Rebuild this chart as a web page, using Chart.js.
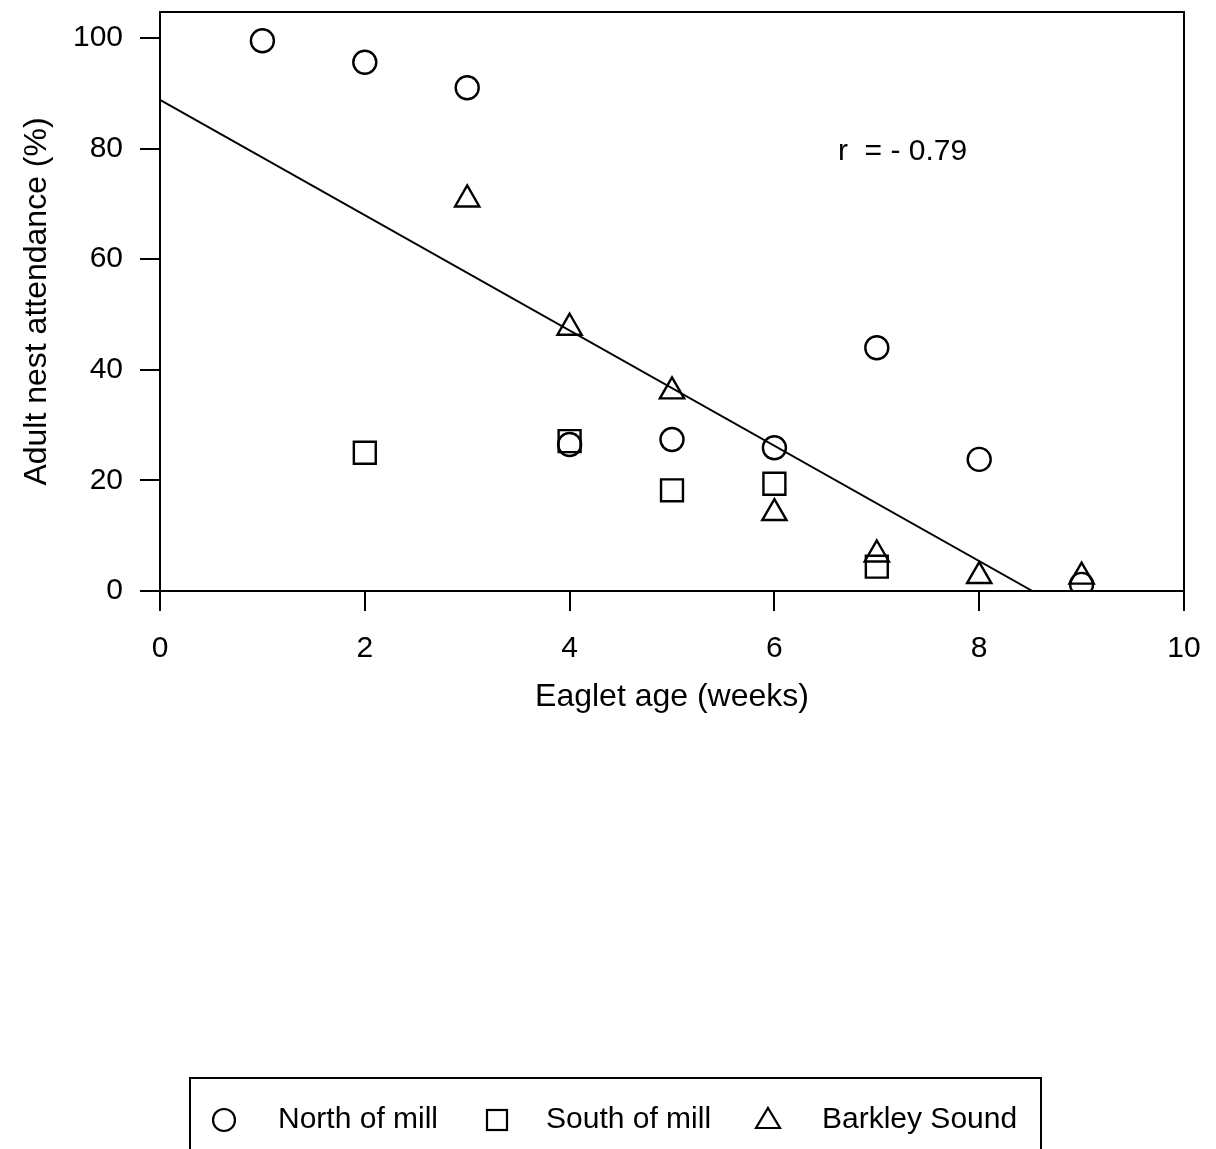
<!DOCTYPE html>
<html>
<head>
<meta charset="utf-8">
<script src="https://cdn.jsdelivr.net/npm/chart.js@4/dist/chart.umd.min.js"></script>
<style>
  html, body { margin: 0; padding: 0; background: #fff; }
  #c { display: block; }
</style>
</head>
<body>
<canvas id="c" width="1216" height="1149"></canvas>
<script>
// ---- data ----
const seriesNames = ['North of mill', 'South of mill', 'Barkley Sound'];
const weeksNorth = [1, 2, 3, 4, 5, 6, 7, 8, 9];
const northOfMill = [99.5, 95.6, 91.0, 26.5, 27.4, 25.9, 44.0, 23.8, 1.2];
const weeksSouth = [2, 4, 5, 6, 7];
const southOfMill = [25.0, 27.1, 18.2, 19.4, 4.4];
const weeksBarkley = [3, 4, 5, 6, 7, 8, 9];
const barkleySound = [70.8, 47.6, 36.1, 14.1, 6.6, 2.7, 2.6];
const fitWeeks = [0, 8.52];
const fitValues = [88.8, 0];
const xTicks = [0, 2, 4, 6, 8, 10];
const yTicks = [0, 20, 40, 60, 80, 100];
const xTitle = 'Eaglet age (weeks)';
const yTitle = 'Adult nest attendance (%)';
const annotationText = 'r  = - 0.79';
const annotationAt = [6.62, 79.4];

const FONT = '"Liberation Sans", Arial, Helvetica, sans-serif';
Chart.defaults.font.family = FONT;
Chart.defaults.color = '#000';

const toPts = (xs, ys) => xs.map((x, i) => ({ x: x, y: ys[i] }));

const markerBase = {
  pointBorderColor: '#000',
  pointBackgroundColor: 'rgba(0,0,0,0)',
  pointBorderWidth: 2.4,
  showLine: false
};

const framePlugin = {
  id: 'frameLegend',
  afterDraw(chart) {
    const ctx = chart.ctx;
    const a = chart.chartArea;
    ctx.save();
    ctx.strokeStyle = '#000';
    ctx.lineWidth = 2;
    ctx.strokeRect(a.left, a.top, a.right - a.left, a.bottom - a.top);
    const xs = chart.scales.x, ys = chart.scales.y;
    ctx.fillStyle = '#000';
    ctx.font = '30px ' + FONT;
    ctx.textAlign = 'left';
    ctx.textBaseline = 'middle';
    ctx.fillText(annotationText, xs.getPixelForValue(annotationAt[0]), ys.getPixelForValue(annotationAt[1]));
    // legend box
    ctx.lineWidth = 2;
    ctx.strokeRect(190, 1078, 851, 120);
    const cy = 1120;
    ctx.lineWidth = 2.2;
    ctx.beginPath();
    ctx.arc(224, cy, 11, 0, Math.PI * 2);
    ctx.stroke();
    ctx.strokeRect(487, cy - 10, 20, 20);
    ctx.beginPath();
    ctx.moveTo(768, cy - 12);
    ctx.lineTo(780, cy + 8);
    ctx.lineTo(756, cy + 8);
    ctx.closePath();
    ctx.stroke();
    ctx.font = '30px ' + FONT;
    ctx.textBaseline = 'middle';
    ctx.fillText(seriesNames[0], 278, cy);
    ctx.fillText(seriesNames[1], 546, cy);
    ctx.fillText(seriesNames[2], 822, cy);
    ctx.restore();
  }
};

new Chart(document.getElementById('c'), {
  type: 'scatter',
  data: {
    datasets: [
      Object.assign({ label: seriesNames[0], data: toPts(weeksNorth, northOfMill), pointStyle: 'circle', pointRadius: 11.5 }, markerBase),
      Object.assign({ label: seriesNames[1], data: toPts(weeksSouth, southOfMill), pointStyle: 'rect', pointRadius: 15.5 }, markerBase),
      Object.assign({ label: seriesNames[2], data: toPts(weeksBarkley, barkleySound), pointStyle: 'triangle', pointRadius: 14 }, markerBase),
      {
        label: 'fit', type: 'line', data: toPts(fitWeeks, fitValues),
        borderColor: '#000', borderWidth: 2, pointRadius: 0, fill: false, tension: 0
      }
    ]
  },
  options: {
    responsive: false,
    animation: false,
    devicePixelRatio: 1,
    events: [],
    layout: { autoPadding: false, padding: { top: 12, right: 32, left: 0, bottom: 418 } },
    plugins: { legend: { display: false }, tooltip: { enabled: false } },
    scales: {
      x: {
        type: 'linear', min: 0, max: 10,
        afterBuildTicks: s => { s.ticks = xTicks.map(v => ({ value: v })); },
        afterFit: s => { s.height = 140; s.paddingLeft = 0; s.paddingRight = 0; },
        ticks: { font: { size: 30 }, padding: 20, color: '#000', maxRotation: 0 },
        grid: { drawOnChartArea: false, drawTicks: true, tickLength: 20, color: '#000', lineWidth: 2 },
        border: { display: true, color: '#000', width: 2 },
        title: { display: true, text: xTitle, font: { size: 32 }, color: '#000', padding: { top: 0, bottom: 15 } }
      },
      y: {
        type: 'linear', min: 0, max: 104.7,
        afterBuildTicks: s => { s.ticks = yTicks.map(v => ({ value: v })); },
        afterFit: s => { s.width = 160; s.paddingTop = 0; s.paddingBottom = 0; },
        ticks: { font: { size: 30 }, padding: 17, color: '#000' },
        grid: { drawOnChartArea: false, drawTicks: true, tickLength: 20, color: '#000', lineWidth: 2 },
        border: { display: true, color: '#000', width: 2 },
        title: { display: true, text: yTitle, font: { size: 32 }, color: '#000', padding: { top: 18, bottom: 0 } }
      }
    }
  },
  plugins: [framePlugin]
});
</script>
</body>
</html>
